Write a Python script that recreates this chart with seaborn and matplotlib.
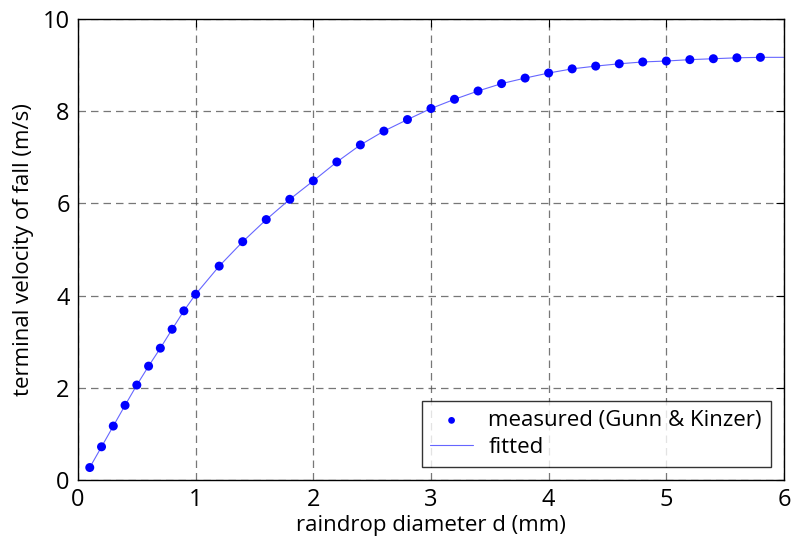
import numpy as np
import pandas as pd
import matplotlib
matplotlib.use("Agg")
import matplotlib.pyplot as plt
import seaborn as sns

diameter = [0.1, 0.2, 0.3, 0.4, 0.5, 0.6, 0.7, 0.8, 0.9, 1.0,
            1.2, 1.4, 1.6, 1.8, 2.0, 2.2, 2.4, 2.6, 2.8, 3.0,
            3.2, 3.4, 3.6, 3.8, 4.0, 4.2, 4.4, 4.6, 4.8, 5.0,
            5.2, 5.4, 5.6, 5.8]
velocity = [0.27, 0.72, 1.17, 1.62, 2.06, 2.47, 2.86, 3.27, 3.67, 4.03,
            4.64, 5.17, 5.65, 6.09, 6.49, 6.90, 7.27, 7.57, 7.82, 8.06,
            8.26, 8.44, 8.60, 8.72, 8.83, 8.92, 8.98, 9.03, 9.07, 9.09,
            9.12, 9.14, 9.16, 9.17]

# fitted curve
fit_d = diameter + [6.0]
fit_v = velocity + [9.17]

meas = pd.DataFrame({"d": diameter, "v": velocity})
fit = pd.DataFrame({"d": fit_d, "v": fit_v})

sns.set_style("white")
plt.rcParams["font.family"] = ["Open Sans", "DejaVu Sans"]
plt.rcParams["text.color"] = "black"
plt.rcParams["axes.labelcolor"] = "black"
plt.rcParams["xtick.color"] = "black"
plt.rcParams["ytick.color"] = "black"

fig = plt.figure(figsize=(7.91, 5.5), dpi=100)
ax = fig.add_axes([0.0986, 0.1273, 0.8925, 0.838])

sns.lineplot(data=fit, x="d", y="v", ax=ax, color="#6666ff", lw=0.8,
             label="fitted", zorder=2, sort=False)
sns.scatterplot(data=meas, x="d", y="v", ax=ax, color="blue", s=42,
                edgecolor="none", label="measured (Gunn & Kinzer)", zorder=3)

ax.set_xlim(0, 6)
ax.set_ylim(0, 10)
ax.set_xticks(range(0, 7))
ax.set_yticks(range(0, 11, 2))
ax.grid(True, color="#555555", linestyle=(0, (6, 4)), lw=0.9, alpha=0.8)
ax.tick_params(direction="in", length=6, top=True, right=True,
               labelsize=17, pad=6, color="black")
for s in ax.spines.values():
    s.set_color("black")
    s.set_linewidth(1.0)

ax.set_xlabel("raindrop diameter d (mm)", fontsize=16, labelpad=2)
ax.set_ylabel("terminal velocity of fall (m/s)", fontsize=16, labelpad=6)

handles, labels = ax.get_legend_handles_labels()
order = [labels.index("measured (Gunn & Kinzer)"), labels.index("fitted")]
leg = ax.legend([handles[i] for i in order], [labels[i] for i in order],
                loc="lower right", fontsize=16, frameon=True, fancybox=False,
                edgecolor="black", borderaxespad=0.6, handlelength=1.9,
                handletextpad=0.7, labelspacing=0.25, borderpad=0.4,
                markerscale=0.75)
leg.get_frame().set_linewidth(1.0)

fig.savefig("out.png", dpi=100)
